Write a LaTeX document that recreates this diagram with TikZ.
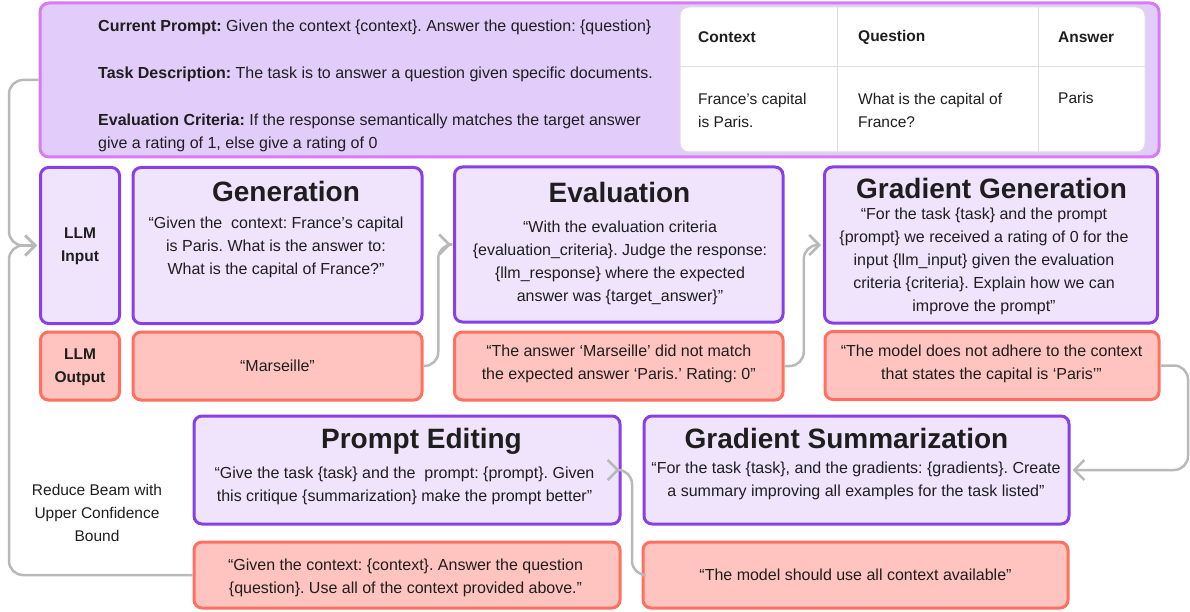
\documentclass[tikz,border=0pt]{standalone}
\usepackage{fontspec}
\setmainfont{Liberation Sans}
\usetikzlibrary{arrows.meta,calc}
\frenchspacing
\definecolor{panelfill}{RGB}{226,204,250}
\definecolor{panelline}{RGB}{214,124,246}
\definecolor{stagefill}{RGB}{240,228,253}
\definecolor{stageline}{RGB}{137,63,232}
\definecolor{outfill}{RGB}{255,196,191}
\definecolor{outline}{RGB}{255,112,96}
\definecolor{connc}{RGB}{185,185,185}
\definecolor{ink}{RGB}{30,30,30}
\definecolor{gridc}{RGB}{222,222,222}
\begin{document}
\begin{tikzpicture}[x=1pt,y=-1pt,
  panelbox/.style={draw=panelline, fill=panelfill, rounded corners=9pt, line width=3pt, inner sep=0pt},
  stagebox/.style={draw=stageline, fill=stagefill, rounded corners=8pt, line width=3pt, inner sep=0pt},
  outbox/.style={draw=outline, fill=outfill, rounded corners=8pt, line width=3pt, inner sep=0pt},
  tablebox/.style={draw=gridc, fill=white, rounded corners=9pt, line width=1pt, inner sep=0pt},
  gridline/.style={draw=gridc, line width=1pt},
  title/.style={font=\fontsize{28}{32}\selectfont\bfseries, text=ink, anchor=base, inner sep=0pt},
  body/.style={font=\fontsize{16}{23}\selectfont, text=ink, align=center, inner sep=0pt},
  toptext/.style={font=\fontsize{16}{23}\selectfont, text=ink, anchor=west, align=left, inner sep=0pt},
  tabhead/.style={font=\fontsize{15.5}{23}\selectfont\bfseries, text=ink, anchor=west, inner sep=0pt},
  tabtext/.style={font=\fontsize{15.5}{23}\selectfont, text=ink, anchor=west, align=left, inner sep=0pt},
  sidelabel/.style={font=\fontsize{15.5}{23}\selectfont\bfseries, text=ink, align=center, inner sep=0pt},
  note/.style={font=\fontsize{15.5}{23}\selectfont, text=ink, align=center, inner sep=0pt},
  conn/.style={draw=connc, line width=2.5pt, rounded corners=14pt, -{Straight Barb[length=10pt,width=20pt]}, shorten >=2pt}
]
\useasboundingbox (0,0) rectangle (1190,612);

% ---------- top panel ----------
\node[panelbox, minimum width=1119pt, minimum height=154pt] (top) at (599.5,80) {};
\node[toptext] (cp) at (98,27) {\textbf{Current Prompt:} Given the context \{context\}. Answer the question: \{question\}};
\node[toptext] (td) at (98,74) {\textbf{Task Description:} The task is to answer a question given specific documents.};
\node[toptext] (ec) at (98,132.5) {\textbf{Evaluation Criteria:} If the response semantically matches the target answer\\give a rating of 1, else give a rating of 0};

% table
\node[tablebox, minimum width=465pt, minimum height=145pt] (tab) at (912.5,79.5) {};
\draw[gridline] (tab.north -| 837,0) -- (tab.south -| 837,0);
\draw[gridline] (tab.north -| 1038,0) -- (tab.south -| 1038,0);
\draw[gridline] (tab.west |- 0,67) -- (tab.east |- 0,67);
\node[tabhead] (hctx) at (698,37) {Context};
\node[tabhead] (hq) at (858,37) {Question};
\node[tabhead] (ha) at (1058,37) {Answer};
\node[tabtext] (bctx) at (698,110.5) {France’s capital\\is Paris.};
\node[tabtext] (bq) at (858,110.5) {What is the capital of\\France?};
\node[tabtext] (ba) at (1058,98) {Paris};

% ---------- row 1 ----------
\node[stagebox, minimum width=79pt, minimum height=156pt] (llmin) at (80,245.5) {};
\node[sidelabel] (llmint) at (80,246.5) {LLM\\Input};
\node[outbox, minimum width=79pt, minimum height=68pt] (llmout) at (80,366) {};
\node[sidelabel] (llmoutt) at (80,367) {LLM\\Output};

\node[stagebox, minimum width=289pt, minimum height=156pt] (gen) at (277.5,245.5) {};
\node[title] (gent) at (286,202) {Generation};
\node[body] (genb) at (276,247) {“Given the~ context: France’s capital\\is Paris. What is the answer to:\\What is the capital of France?”};
\node[outbox, minimum width=289pt, minimum height=68pt] (genout) at (277.5,366) {};
\node[body] (genoutt) at (277.5,366) {“Marseille”};

\node[stagebox, minimum width=328.5pt, minimum height=155pt] (eval) at (618.75,244.5) {};
\node[title] (evalt) at (619.5,203) {Evaluation};
\node[body] (evalb) at (620,262.5) {“With the evaluation criteria\\\{evaluation\_criteria\}. Judge the response:\\\{llm\_response\} where the expected\\answer was \{target\_answer\}”};
\node[outbox, minimum width=328.5pt, minimum height=68pt] (evalout) at (618.75,366) {};
\node[body] (evaloutt) at (618.75,363.5) {“The answer ‘Marseille’ did not match\\the expected answer ‘Paris.’ Rating: 0”};

\node[stagebox, minimum width=333pt, minimum height=156pt] (gg) at (991,245) {};
\node[title] (ggt) at (991.5,199) {Gradient Generation};
\node[body] (ggb) at (984,261) {“For the task \{task\} and the prompt\\\{prompt\} we received a rating of 0 for the\\input \{llm\_input\} given the evaluation\\criteria \{criteria\}. Explain how we can\\improve the prompt”};
\node[outbox, minimum width=334pt, minimum height=68pt] (ggout) at (992,365.5) {};
\node[body] (ggoutt) at (991.5,363.5) {“The model does not adhere to the context\\that states the capital is ‘Paris’”};

% ---------- row 2 ----------
\node[stagebox, minimum width=426pt, minimum height=108pt] (pe) at (407,470) {};
\node[title] (pet) at (421.5,448) {Prompt Editing};
\node[body] (peb) at (404.5,485.5) {“Give the task \{task\} and the~ prompt: \{prompt\}. Given\\this critique \{summarization\} make the prompt better”};
\node[outbox, minimum width=426pt, minimum height=66pt] (peout) at (407,575) {};
\node[body] (peoutt) at (405.5,577.5) {“Given the context: \{context\}. Answer the question\\\{question\}. Use all of the context provided above.”};

\node[stagebox, minimum width=425pt, minimum height=108pt] (gs) at (856.5,470) {};
\node[title] (gst) at (846.5,448) {Gradient Summarization};
\node[body] (gsb) at (856,480.5) {“For the task \{task\}, and the gradients: \{gradients\}. Create\\a summary improving all examples for the task listed”};
\node[outbox, minimum width=425pt, minimum height=66pt] (gsout) at (855.5,575) {};
\node[body] (gsoutt) at (855.5,575) {“The model should use all context available”};

\node[note] (rb) at (97,513) {Reduce Beam with\\Upper Confidence\\Bound};

% ---------- connectors ----------
\coordinate (railL) at (9,0);
\coordinate (railR) at (1188,0);
\coordinate (gapA) at ($(gen.east)!0.5!(eval.west)$);
\coordinate (gapB) at ($(eval.east)!0.5!(gg.west)$);
\coordinate (gapC) at ($(pe.east)!0.5!(gs.west)$);

\draw[conn] (top.west) -- (railL |- top.west) -- (railL |- llmin.west) -- (llmin.west);
\draw[conn] (peout.west) -- (railL |- peout.west) -- (railL |- llmin.west) -- (llmin.west);
\draw[conn] (genout.east) -- (gapA |- genout.east) -- (gapA |- eval.west) -- (eval.west);
\draw[conn] (evalout.east) -- (gapB |- evalout.east) -- (gapB |- gg.west) -- (gg.west);
\draw[conn] (ggout.east) -- (railR |- ggout.east) -- (railR |- gs.east) -- (gs.east);
\draw[conn] (gsout.west) -- (gapC |- gsout.west) -- (gapC |- pe.east) -- (pe.east);
\end{tikzpicture}
\end{document}
